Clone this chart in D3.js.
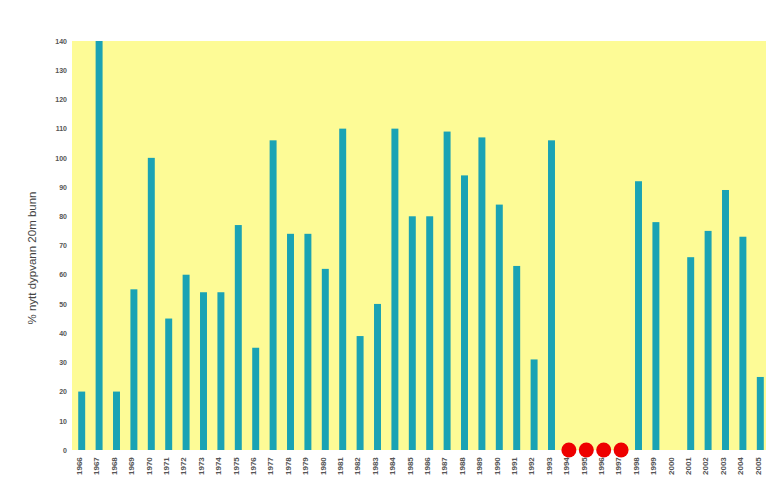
<!DOCTYPE html>
<html><head><meta charset="utf-8">
<script src="https://cdn.jsdelivr.net/npm/d3@7"></script>
<style>body{margin:0;background:#fff;}svg{display:block;}</style>
</head><body><div id="chart"></div>
<script>
const years = d3.range(1966, 2006).map(String);
const values = [20,140,20,55,100,45,60,54,54,77,35,106,74,74,62,110,39,50,110,80,80,109,94,107,84,63,31,106,null,null,null,null,92,78,null,66,75,89,73,25];
const missing = [false,false,false,false,false,false,false,false,false,false,false,false,false,false,false,false,false,false,false,false,false,false,false,false,false,false,false,false,true,true,true,true,false,false,false,false,false,false,false,false];
const yTicks = d3.range(0, 141, 10);
const yTitle = "% nytt dypvann 20m bunn";

const W = 766, H = 495;
const m = {left: 72, right: 0, top: 41, bottom: 45};
const svg = d3.select("#chart").append("svg").attr("width", W).attr("height", H);
const x = d3.scaleBand().domain(years).range([m.left + 1, W + 3]).paddingInner(0.6).paddingOuter(0.3);
const y = d3.scaleLinear().domain([0, 140]).range([H - m.bottom, m.top]);

svg.append("rect").attr("x", m.left).attr("y", m.top).attr("width", W - m.left).attr("height", H - m.bottom - m.top).attr("fill", "#fdfb96");

svg.selectAll("rect.bar").data(years.map((yr, i) => ({yr, v: values[i]})).filter(d => d.v != null))
  .enter().append("rect").attr("class", "bar")
  .attr("x", d => x(d.yr)).attr("width", x.bandwidth())
  .attr("y", d => y(d.v)).attr("height", d => y(0) - y(d.v))
  .attr("fill", "#1aa3b4");

svg.selectAll("circle.miss").data(years.filter((yr, i) => missing[i]))
  .enter().append("circle").attr("class", "miss")
  .attr("cx", d => x(d) + x.bandwidth() / 2).attr("cy", y(0)).attr("r", 7.5)
  .attr("fill", "#ee0000");

const ya = svg.append("g").attr("transform", `translate(${m.left},0)`)
  .call(d3.axisLeft(y).tickValues(yTicks).tickSize(0).tickPadding(5));
ya.select(".domain").remove();
ya.selectAll("text").attr("font-family", "Arial, Liberation Sans, sans-serif").attr("font-size", 7).attr("font-weight", "bold").attr("fill", "#555");

const xa = svg.append("g").attr("transform", `translate(0,${H - m.bottom})`)
  .call(d3.axisBottom(x).tickSize(0).tickPadding(3));
xa.select(".domain").remove();
xa.selectAll("text").attr("font-family", "Arial, Liberation Sans, sans-serif").attr("font-size", 8).attr("font-weight", "bold").attr("fill", "#555")
  .attr("transform", "rotate(-90)").attr("text-anchor", "end").attr("dx", "-0.9em").attr("dy", "-0.35em");

svg.append("text").attr("transform", `translate(36,258) rotate(-90)`)
  .attr("text-anchor", "middle").attr("font-family", "Arial, Liberation Sans, sans-serif").attr("font-size", 11.5).attr("fill", "#444")
  .text(yTitle);
</script></body></html>
